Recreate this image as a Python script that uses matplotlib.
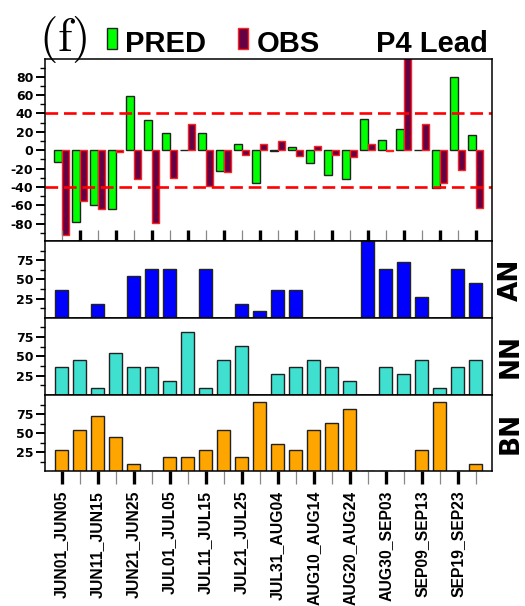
import matplotlib
matplotlib.use('Agg')
import matplotlib.pyplot as plt
from matplotlib.patches import Rectangle

plt.rcParams['mathtext.fontset'] = 'cm'
plt.rcParams['axes.unicode_minus'] = False

# pentad labels (every other one is printed)
pentads = ['JUN01_JUN05', 'JUN06_JUN10', 'JUN11_JUN15', 'JUN16_JUN20', 'JUN21_JUN25',
           'JUN26_JUN30', 'JUL01_JUL05', 'JUL06_JUL10', 'JUL11_JUL15', 'JUL16_JUL20',
           'JUL21_JUL25', 'JUL26_JUL30', 'JUL31_AUG04', 'AUG05_AUG09', 'AUG10_AUG14',
           'AUG15_AUG19', 'AUG20_AUG24', 'AUG25_AUG29', 'AUG30_SEP03', 'SEP04_SEP08',
           'SEP09_SEP13', 'SEP14_SEP18', 'SEP19_SEP23', 'SEP24_SEP28']

# rainfall anomaly (%)
pred = [-13, -78, -60, -64, 59, 33, 19, 0.5, 19, -23, 7, -36,
        -0.5, 3, -14, -27, -31, 34, 11, 23, 0.5, -41, 80, 17]
obs = [-92, -55, -64, -2, -31, -79, -30, 29, -39, -24, -5, 7,
       10, -6, 5, -5, -7, 7, -0.5, 105, 28, -36, -22, -63]

# tercile probabilities (%)
an = [36.4, 0, 18.2, 0, 54.5, 63.6, 63.6, 0, 63.6, 0, 18.2, 9.1,
      36.4, 36.4, 0, 0, 0, 100, 63.6, 72.7, 27.3, 0, 63.6, 45.5]
nn = [36.4, 45.5, 9.1, 54.5, 36.4, 36.4, 18.2, 81.8, 9.1, 45.5, 63.6, 0,
      27.3, 36.4, 45.5, 36.4, 18.2, 0, 36.4, 27.3, 45.5, 9.1, 36.4, 45.5]
bn = [27.3, 54.5, 72.7, 45.5, 9.1, 0, 18.2, 18.2, 27.3, 54.5, 18.2, 90.9,
      36.4, 27.3, 54.5, 63.6, 81.8, 0, 0, 0, 27.3, 90.9, 0, 9.1]

x = list(range(len(pentads)))
even = x[0::2]
odd = x[1::2]

fig = plt.figure(figsize=(5.25, 6.06), dpi=100)
left, width = 0.0857, 0.852
ax0 = fig.add_axes([left, 0.6023, width, 0.2998])
ax1 = fig.add_axes([left, 0.4757, width, 0.1266])
ax2 = fig.add_axes([left, 0.3482, width, 0.1276])
ax3 = fig.add_axes([left, 0.2223, width, 0.1259])

tick_font = {'family': 'DejaVu Sans', 'weight': 'bold', 'size': 9}

# top panel: predicted vs observed anomaly
ax0.bar([i - 0.43 for i in x], pred, width=0.43, align='edge',
        color='#00ff00', edgecolor='#222222', linewidth=1)
ax0.bar(x, obs, width=0.43, align='edge',
        color='#660044', edgecolor='#ff2020', linewidth=1)
for lev in (40, -40):
    ax0.axhline(lev, color='#ff0000', linewidth=1.9, dashes=(4.8, 2.2))
ax0.set_ylim(-99, 99)
ax0.set_yticks(range(-80, 81, 20))
ax0.set_yticklabels([str(v) for v in range(-80, 81, 20)], fontdict=tick_font)
ax0.set_yticks(range(-90, 91, 20), minor=True)
ax0.set_xticks(odd)
ax0.set_xticks(even, minor=True)
ax0.tick_params(axis='x', which='major', direction='in', length=8, width=2.4,
                color='black', labelbottom=False)
ax0.tick_params(axis='x', which='minor', direction='in', length=8, width=0.9,
                color='#888888')

# probability panels
panels = [(ax1, an, '#0000ff', 'AN'), (ax2, nn, '#40e0d0', 'NN'), (ax3, bn, '#ffa500', 'BN')]
for ax, vals, col, name in panels:
    ax.bar(x, vals, width=0.74, color=col, edgecolor='#222222', linewidth=1)
    ax.set_ylim(0, 100)
    ax.set_yticks([25, 50, 75])
    ax.set_yticklabels(['25', '50', '75'], fontdict=tick_font)
    ax.set_yticks([12.5, 37.5, 62.5, 87.5], minor=True)
    pos = ax.get_position()
    fig.text(0.973, pos.y0 + pos.height / 2, name, rotation=90, ha='center', va='center',
             fontsize=19, fontweight='heavy', family='DejaVu Sans')

ax1.set_xticks([])
ax2.set_xticks([])
ax3.set_xticks(even)
ax3.set_xticklabels(pentads[0::2], rotation=90, fontsize=11.3, fontweight='bold',
                    family='Liberation Sans')
ax3.set_xticks(odd, minor=True)
ax3.tick_params(axis='x', which='major', direction='out', length=9, width=2.4,
                color='black', pad=5)
ax3.tick_params(axis='x', which='minor', direction='out', length=9, width=0.9,
                color='#888888')

for ax in (ax0, ax1, ax2, ax3):
    ax.set_xlim(-0.93, 23.92)
    ax.tick_params(axis='y', which='major', direction='out', length=6.5, width=1.4, pad=2)
    ax.tick_params(axis='y', which='minor', direction='out', length=3.5, width=1.0)
    for s in ax.spines.values():
        s.set_linewidth(1.1)
        s.set_color('black')

# header: panel letter and legend
fig.text(0.074, 0.916, r'$(\mathrm{f})$', fontsize=34, va='baseline', ha='left')
fig.patches.append(Rectangle((0.2038, 0.919), 0.019, 0.0347, transform=fig.transFigure,
                             facecolor='#00ff00', edgecolor='#222222', linewidth=1))
fig.patches.append(Rectangle((0.4533, 0.919), 0.019, 0.0347, transform=fig.transFigure,
                             facecolor='#660044', edgecolor='#ff2020', linewidth=1))
head_font = 'Liberation Sans'
fig.text(0.238, 0.914, 'PRED', fontsize=21, fontweight='bold', family=head_font, va='baseline')
fig.text(0.4895, 0.914, 'OBS', fontsize=21, fontweight='bold', family=head_font, va='baseline')
fig.text(0.9295, 0.914, 'P4 Lead', fontsize=21, fontweight='bold', family=head_font,
         va='baseline', ha='right')

fig.savefig('out.png', dpi=100)
